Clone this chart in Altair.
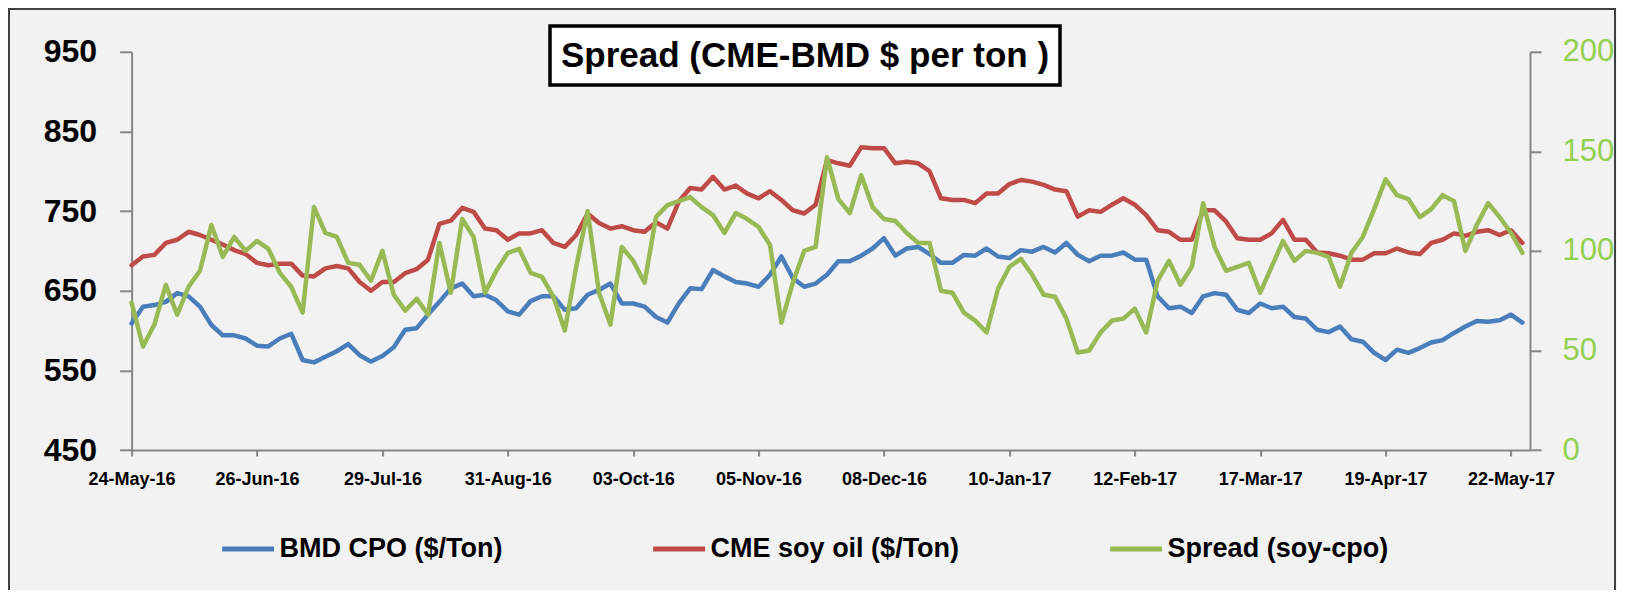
import altair as alt
import pandas as pd

# ---------------- data ----------------
START_DATE = "2016-05-24"
STEP_DAYS = 3

BMD_CPO = [
    609, 630, 632, 636, 647, 643, 630, 607, 594, 594,
    590, 581, 580, 590, 596, 563, 560, 567, 574, 583,
    569, 561, 568, 579, 601, 603, 620, 636, 653, 659,
    643, 645, 638, 624, 620, 637, 643, 643, 626, 628,
    645, 651, 659, 634, 634, 630, 617, 610, 634, 653,
    652, 676, 668, 661, 659, 655, 670, 693, 666, 655,
    659, 670, 687, 687, 694, 703, 716, 694, 703, 705,
    696, 685, 685, 695, 694, 703, 693, 691, 701, 699,
    705, 698, 710, 695, 687, 694, 694, 698, 689, 689,
    643, 628, 630, 622, 643, 647, 645, 626, 622, 634,
    628, 630, 617, 615, 601, 598, 605, 589, 586, 572,
    563, 576, 572, 578, 585, 588, 597, 605, 612, 611,
    613, 620, 610,
]

CME_SOY = [
    682, 693, 695, 710, 714, 724, 720, 714, 708, 701,
    696, 685, 682, 684, 684, 669, 668, 678, 681, 678,
    661, 650, 661, 661, 672, 677, 689, 734, 738, 754,
    749, 728, 726, 714, 722, 722, 726, 710, 705, 720,
    747, 735, 728, 731, 726, 724, 736, 728, 762, 779,
    777, 793, 777, 782, 772, 766, 775, 764, 751, 747,
    758, 814, 810, 807, 830, 829, 829, 810, 812, 810,
    800, 766, 764, 764, 760, 772, 772, 784, 789, 787,
    783, 777, 775, 743, 751, 749, 758, 766, 758, 745,
    726, 724, 714, 714, 751, 751, 737, 716, 714, 714,
    722, 739, 714, 714, 698, 697, 694, 689, 689, 697,
    697, 703, 698, 696, 710, 714, 722, 719, 724, 726,
    720, 726, 710,
]

SPREAD = [
    74, 52, 63, 83, 68, 82, 90, 113, 97, 107,
    100, 105, 101, 89, 82, 69, 122, 109, 107, 94,
    93, 85, 100, 78, 70, 76, 68, 104, 79, 116,
    107, 79, 90, 99, 101, 89, 87, 77, 60, 92,
    120, 79, 63, 102, 95, 84, 117, 123, 125, 127,
    122, 118, 109, 119, 116, 112, 103, 64, 84, 100,
    102, 147, 126, 119, 138, 122, 116, 115, 109, 104,
    104, 80, 79, 69, 65, 59, 81, 92, 96, 88,
    78, 77, 66, 49, 50, 59, 65, 66, 71, 59,
    85, 95, 83, 92, 124, 102, 90, 92, 94, 79,
    92, 105, 95, 100, 99, 97, 82, 99, 107, 121,
    136, 128, 126, 117, 121, 128, 125, 100, 113, 124,
    117, 109, 99,
]

SERIES_NAMES = ["BMD CPO ($/Ton)", "CME soy oil ($/Ton)", "Spread (soy-cpo)"]
SERIES_COLORS = ["#4A7EBB", "#BE4B48", "#98B954"]

TICK_DATES = ["2016-05-24", "2016-06-26", "2016-07-29", "2016-08-31",
              "2016-10-03", "2016-11-05", "2016-12-08", "2017-01-10",
              "2017-02-12", "2017-03-17", "2017-04-19", "2017-05-22"]
X_DOMAIN = ["2016-05-24", "2017-05-27"]
LEFT_TICKS = [450, 550, 650, 750, 850, 950]
RIGHT_TICKS = [0, 50, 100, 150, 200]
TITLE = "Spread (CME-BMD $ per ton )"

# ---------------- build table ----------------
dates = pd.date_range(START_DATE, periods=len(BMD_CPO), freq=f"{STEP_DAYS}D").strftime("%Y-%m-%d")
rows = []
for name, vals in zip(SERIES_NAMES, [BMD_CPO, CME_SOY, SPREAD]):
    for d, v in zip(dates, vals):
        rows.append({"date": d, "series": name, "value": v})
df = pd.DataFrame(rows)


def dt(s):
    y, m, d = (int(p) for p in s.split("-"))
    return alt.DateTime(year=y, month=m, date=d, utc=True)


FONT = "Liberation Sans"
W, H = 1398.4, 398.2
PAD = {"left": 123.6, "top": 43.8, "right": 87, "bottom": 140}

color = alt.Color(
    "series:N",
    scale=alt.Scale(domain=SERIES_NAMES, range=SERIES_COLORS),
    legend=alt.Legend(
        title=None, orient="none", legendX=88, legendY=468.5,
        direction="horizontal", labelFont=FONT, labelFontSize=27,
        labelFontWeight="bold", labelColor="black", symbolType="stroke",
        symbolStrokeWidth=5, symbolSize=2700, labelOffset=3,
        columnPadding=140, labelLimit=400,
    ),
)

x = alt.X(
    "date:T",
    scale=alt.Scale(type="utc", domain=[dt(s) for s in X_DOMAIN]),
    axis=alt.Axis(
        values=[dt(s) for s in TICK_DATES],
        labelExpr="utcFormat(datum.value, '%d-%b-%y')",
        title=None, labelAngle=0, labelFont=FONT, labelFontSize=18,
        labelFontWeight="bold", labelColor="black", tickSize=6,
        labelPadding=14, labelFlush=False, labelOverlap=False, labelBound=False,
    ),
)

left = alt.Chart(df).transform_filter(
    alt.FieldOneOfPredicate(field="series", oneOf=SERIES_NAMES[:2])
).mark_line(strokeWidth=4.5, strokeJoin="round", strokeCap="round").encode(
    x=x,
    y=alt.Y("value:Q", scale=alt.Scale(domain=[450, 950], nice=False, zero=False),
            axis=alt.Axis(values=LEFT_TICKS, title=None, orient="left",
                          labelFont=FONT, labelFontSize=32, labelFontWeight="bold",
                          labelColor="black", tickSize=12, labelPadding=23)),
    color=color,
    detail="series:N",
)

right = alt.Chart(df).transform_filter(
    alt.FieldEqualPredicate(field="series", equal=SERIES_NAMES[2])
).mark_line(strokeWidth=4.5, strokeJoin="round", strokeCap="round").encode(
    x=x,
    y=alt.Y("value:Q", scale=alt.Scale(domain=[0, 200], nice=False),
            axis=alt.Axis(values=RIGHT_TICKS, title=None, orient="right",
                          labelFont=FONT, labelFontSize=31, labelFontWeight="normal",
                          labelColor="#92D050", tickSize=11, labelPadding=21)),
    color=color,
)

one = pd.DataFrame({"t": [TITLE]})

title_box = alt.Chart(one).mark_rect(
    fill="white", stroke="black", strokeWidth=3.5
).encode(
    x=alt.value(418.4), x2=alt.value(928.4), y=alt.value(-25.8), y2=alt.value(33.2)
)
title_text = alt.Chart(one).mark_text(
    font=FONT, fontSize=35, fontWeight="bold", color="black",
    align="center", baseline="middle"
).encode(
    x=alt.value(673.4), y=alt.value(4.5), text="t:N"
)
frame = alt.Chart(one).mark_rect(
    fill=None, stroke="#404040", strokeWidth=2
).encode(
    x=alt.value(-122.6), x2=alt.value(1483.4), y=alt.value(-42.8), y2=alt.value(700)
)

chart = alt.layer(frame, left, right, title_box, title_text).resolve_scale(
    y="independent"
).properties(
    width=W, height=H, padding=PAD,
    autosize=alt.AutoSizeParams(type="none"),
    background="#F2F2F2",
).configure_view(stroke=None).configure_axis(
    grid=False, domainColor="#868686", domainWidth=2,
    tickColor="#868686", tickWidth=2,
)

chart.save("out.html", embed_options={"renderer": "svg", "actions": False})
